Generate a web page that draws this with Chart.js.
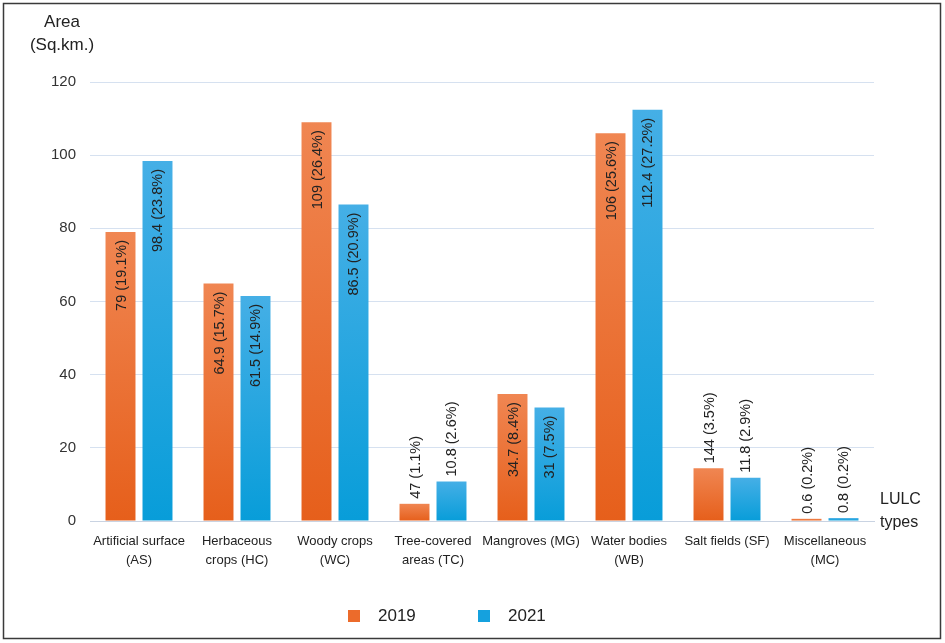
<!DOCTYPE html>
<html>
<head>
<title>LULC area 2019 vs 2021</title>
<style>
    body { margin: 0; background: #FFFFFF; }
    #wrap { width: 945px; height: 643px; position: relative; }
</style>
<script src="https://cdn.jsdelivr.net/npm/chart.js"></script>
</head>
<body>
<div id="wrap"><canvas id="lulc" width="945" height="643"></canvas></div>
<script>
// data
const categories = [
    ['Artificial surface', '(AS)'],
    ['Herbaceous', 'crops (HC)'],
    ['Woody crops', '(WC)'],
    ['Tree-covered', 'areas (TC)'],
    ['Mangroves (MG)'],
    ['Water bodies', '(WB)'],
    ['Salt fields (SF)'],
    ['Miscellaneous', '(MC)']
];
const area2019 = [79, 64.9, 109, 4.7, 34.7, 106, 14.4, 0.6];
const area2021 = [98.4, 61.5, 86.5, 10.8, 31, 112.4, 11.8, 0.8];
// value labels exactly as printed on the bars
const labels2019 = ['79 (19.1%)', '64.9 (15.7%)', '109 (26.4%)', '47 (1.1%)', '34.7 (8.4%)', '106 (25.6%)', '144 (3.5%)', '0.6 (0.2%)'];
const labels2021 = ['98.4 (23.8%)', '61.5 (14.9%)', '86.5 (20.9%)', '10.8 (2.6%)', '31 (7.5%)', '112.4 (27.2%)', '11.8 (2.9%)', '0.8 (0.2%)'];
const yTicks = [0, 20, 40, 60, 80, 100, 120];

const FONT = "'Liberation Sans', Arial, sans-serif";

// lighter at the top of every bar, darker at its base
function barFill(top, bottom) {
    return function(ctx) {
        const chart = ctx.chart;
        const y = chart.scales.y;
        if (!chart.chartArea || !y || ctx.parsed === undefined) return bottom;
        const y0 = y.getPixelForValue(ctx.parsed.y);
        const y1 = y.getPixelForValue(0);
        if (!isFinite(y0) || y1 - y0 < 1) return bottom;
        const g = chart.ctx.createLinearGradient(0, y0, 0, y1);
        g.addColorStop(0, top);
        g.addColorStop(1, bottom);
        return g;
    };
}

const textBits = {
    id: 'textBits',
    beforeDraw(chart) {
        const c = chart.ctx;
        c.save();
        c.fillStyle = '#FFFFFF';
        c.fillRect(0, 0, chart.width, chart.height);
        c.restore();
    },
    afterDatasetsDraw(chart) {
        const c = chart.ctx;
        const sets = [labels2019, labels2021];
        c.save();
        c.font = '14.5px ' + FONT;
        c.fillStyle = '#222222';
        c.textBaseline = 'middle';
        chart.data.datasets.forEach(function(ds, d) {
            chart.getDatasetMeta(d).data.forEach(function(bar, i) {
                c.save();
                c.translate(bar.x, bar.y);
                c.rotate(-Math.PI / 2);
                if (ds.data[i] > 20) {
                    c.textAlign = 'right';
                    c.fillText(sets[d][i], -8, 1);
                } else {
                    c.textAlign = 'left';
                    c.fillText(sets[d][i], 5, 1);
                }
                c.restore();
            });
        });
        c.restore();
    },
    afterDraw(chart) {
        const c = chart.ctx;
        c.save();
        c.fillStyle = '#222222';
        c.textBaseline = 'middle';
        c.font = '17px ' + FONT;
        c.textAlign = 'center';
        c.fillText('Area', 62, 22);
        c.fillText('(Sq.km.)', 62, 45);
        c.font = '16px ' + FONT;
        c.textAlign = 'left';
        c.fillText('LULC', 880, 500);
        c.fillText('types', 880, 523);

        // legend
        const pos = [348, 478];
        const solid = ['#EC6B2B', '#15A1DE'];
        c.font = '17px ' + FONT;
        chart.data.datasets.forEach(function(ds, d) {
            c.fillStyle = solid[d];
            c.fillRect(pos[d], 610, 12, 12);
            c.fillStyle = '#222222';
            c.fillText(ds.label, pos[d] + 30, 616);
        });

        // outer frame
        c.strokeStyle = '#3A3A3A';
        c.lineWidth = 1.5;
        c.strokeRect(3.5, 3.5, 937, 635);
        c.restore();
    }
};

new Chart(document.getElementById('lulc'), {
    type: 'bar',
    data: {
        labels: categories,
        datasets: [
            {
                label: '2019',
                data: area2019,
                backgroundColor: barFill('#F08652', '#E65F1B'),
                categoryPercentage: 0.755,
                barPercentage: 0.81
            },
            {
                label: '2021',
                data: area2021,
                backgroundColor: barFill('#45AFE6', '#089DD9'),
                categoryPercentage: 0.755,
                barPercentage: 0.81
            }
        ]
    },
    options: {
        responsive: false,
        animation: false,
        devicePixelRatio: 1,
        layout: { padding: { left: 0, right: 71, top: 82, bottom: 62 } },
        plugins: {
            legend: { display: false },
            tooltip: { enabled: false }
        },
        scales: {
            x: {
                grid: { display: false, drawTicks: false },
                border: { display: true, color: '#C9D3E2', width: 1 },
                ticks: {
                    color: '#222222',
                    font: { family: FONT, size: 13, lineHeight: 1.45 },
                    padding: 11,
                    maxRotation: 0,
                    autoSkip: false
                },
                afterFit(scale) { scale.height = 60; }
            },
            y: {
                min: 0,
                max: 120,
                afterBuildTicks(scale) { scale.ticks = yTicks.map(v => ({ value: v })); },
                grid: { color: '#D6E1F0', drawTicks: false },
                border: { display: false },
                ticks: {
                    color: '#333333',
                    font: { family: FONT, size: 15 },
                    padding: 14
                },
                afterFit(scale) { scale.width = 90; }
            }
        }
    },
    plugins: [textBits]
});
</script>
</body>
</html>
